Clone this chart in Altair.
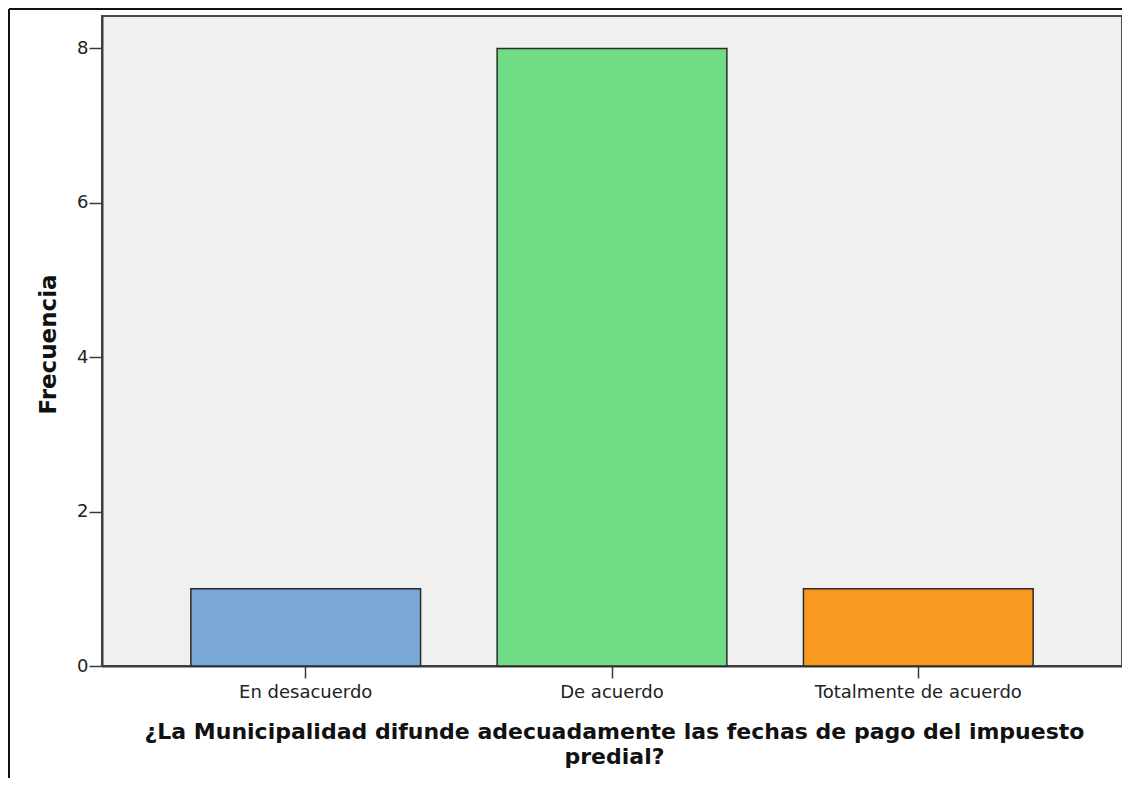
import altair as alt
import pandas as pd

categories = ["En desacuerdo", "De acuerdo", "Totalmente de acuerdo"]
frequencies = [1, 8, 1]
bar_colors = ["#79a8d6", "#70dc85", "#f89a21"]
y_ticks = [0, 2, 4, 6, 8]
x_title = ["¿La Municipalidad difunde adecuadamente las fechas de pago del impuesto", "predial?"]
y_title = "Frecuencia"

df = pd.DataFrame({"cat": categories, "freq": frequencies})

W, H = 1020, 650
PAD = {"left": 94, "top": 8, "right": 0, "bottom": 112}

axis_color = "#3a3a3a"

bars = alt.Chart(df).mark_bar(stroke="#2a2a2a", strokeWidth=1.5).encode(
    x=alt.X("cat:N", sort=categories,
            scale=alt.Scale(paddingInner=0.25, paddingOuter=0.29),
            axis=alt.Axis(title=x_title, labelAngle=0, labelFontSize=18, labelFont="DejaVu Sans",
                          labelColor="#222222", labelPadding=5, labelLimit=0, tickSize=12,
                          tickWidth=1.5, tickColor=axis_color, domainColor=axis_color,
                          domainWidth=2,
                          titleFont="DejaVu Sans", titleFontWeight="bold", titleFontSize=22,
                          titleColor="#111111", titleLineHeight=25, titleBaseline="alphabetic",
                          titleY=72, titleX=W / 2 + 2, titleAnchor="middle", titleLimit=0)),
    y=alt.Y("freq:Q",
            scale=alt.Scale(domain=[0, 8.42], nice=False, zero=True),
            axis=alt.Axis(title=y_title, values=y_ticks, grid=False, labelFontSize=18,
                          labelFont="DejaVu Sans", labelColor="#222222", labelPadding=1,
                          tickSize=13, tickWidth=1.5, tickColor=axis_color,
                          domainColor=axis_color, domainWidth=2,
                          titleFont="DejaVu Sans", titleFontWeight="bold", titleFontSize=23,
                          titleColor="#111111", titleBaseline="alphabetic",
                          titleX=-47, titleY=328, titleAngle=270)),
    color=alt.Color("cat:N", scale=alt.Scale(domain=categories, range=bar_colors), legend=None),
)

# outer picture frame (top and left edges)
frame_top = alt.Chart(df).mark_rule(color="#111111", strokeWidth=2).encode(
    x=alt.value(-93), x2=alt.value(W + PAD["right"] + 5), y=alt.value(-7)
)
frame_left = alt.Chart(df).mark_rule(color="#111111", strokeWidth=2).encode(
    x=alt.value(-93), y=alt.value(-7), y2=alt.value(H + PAD["bottom"] + 5)
)

chart = alt.layer(bars, frame_top, frame_left).properties(
    width=W, height=H,
    autosize=alt.AutoSizeParams(type="none"),
    padding=PAD,
    background="white",
).configure_view(
    fill="#f0f0f0", stroke="#4a4a4a", strokeWidth=2
)

chart.save("out.html", embed_options={"renderer": "svg", "actions": False})
